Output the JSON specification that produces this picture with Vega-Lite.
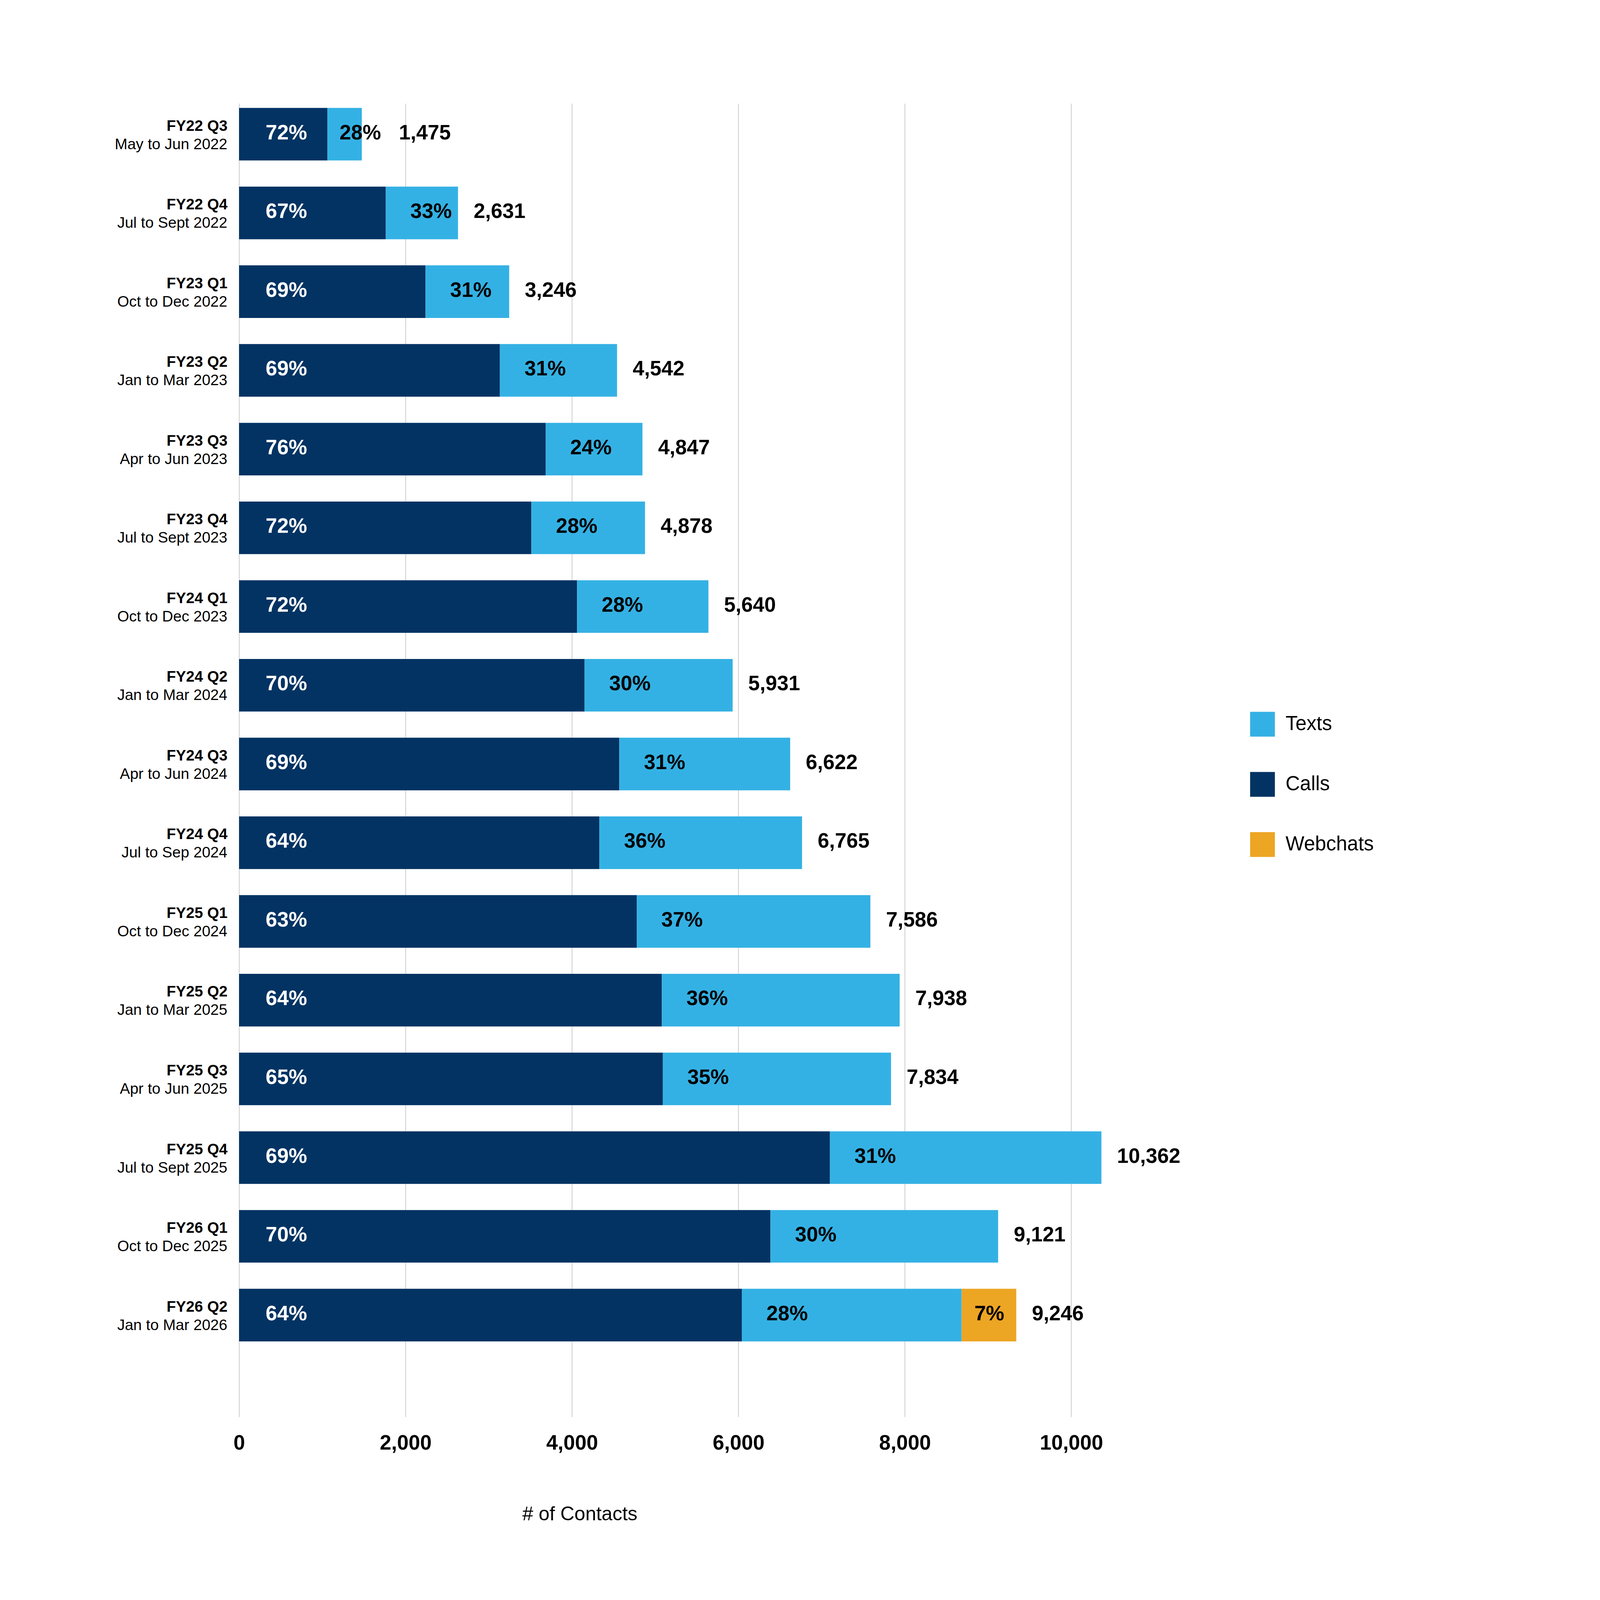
{
  "$schema": "https://vega.github.io/schema/vega-lite/v6.json",
  "description": "Contacts per quarter by channel (Calls, Texts, Webchats), stacked horizontal bars.",
  "autosize": "none",
  "padding": {"left": 612, "top": 265, "right": 1249, "bottom": 394},
  "width": 2237,
  "height": 3362,
  "background": "white",
  "config": {
    "font": "Liberation Sans",
    "view": {"stroke": null}
  },
  "data": {
    "values": [
      {"quarter": "FY22 Q3", "period": "May to Jun 2022", "channel": "Calls", "count": 1062, "pct": 0.72, "total": 1475},
      {"quarter": "FY22 Q3", "period": "May to Jun 2022", "channel": "Texts", "count": 413, "pct": 0.28, "total": 1475},
      {"quarter": "FY22 Q4", "period": "Jul to Sept 2022", "channel": "Calls", "count": 1763, "pct": 0.67, "total": 2631},
      {"quarter": "FY22 Q4", "period": "Jul to Sept 2022", "channel": "Texts", "count": 868, "pct": 0.33, "total": 2631},
      {"quarter": "FY23 Q1", "period": "Oct to Dec 2022", "channel": "Calls", "count": 2240, "pct": 0.69, "total": 3246},
      {"quarter": "FY23 Q1", "period": "Oct to Dec 2022", "channel": "Texts", "count": 1006, "pct": 0.31, "total": 3246},
      {"quarter": "FY23 Q2", "period": "Jan to Mar 2023", "channel": "Calls", "count": 3134, "pct": 0.69, "total": 4542},
      {"quarter": "FY23 Q2", "period": "Jan to Mar 2023", "channel": "Texts", "count": 1408, "pct": 0.31, "total": 4542},
      {"quarter": "FY23 Q3", "period": "Apr to Jun 2023", "channel": "Calls", "count": 3684, "pct": 0.76, "total": 4847},
      {"quarter": "FY23 Q3", "period": "Apr to Jun 2023", "channel": "Texts", "count": 1163, "pct": 0.24, "total": 4847},
      {"quarter": "FY23 Q4", "period": "Jul to Sept 2023", "channel": "Calls", "count": 3512, "pct": 0.72, "total": 4878},
      {"quarter": "FY23 Q4", "period": "Jul to Sept 2023", "channel": "Texts", "count": 1366, "pct": 0.28, "total": 4878},
      {"quarter": "FY24 Q1", "period": "Oct to Dec 2023", "channel": "Calls", "count": 4061, "pct": 0.72, "total": 5640},
      {"quarter": "FY24 Q1", "period": "Oct to Dec 2023", "channel": "Texts", "count": 1579, "pct": 0.28, "total": 5640},
      {"quarter": "FY24 Q2", "period": "Jan to Mar 2024", "channel": "Calls", "count": 4152, "pct": 0.70, "total": 5931},
      {"quarter": "FY24 Q2", "period": "Jan to Mar 2024", "channel": "Texts", "count": 1779, "pct": 0.30, "total": 5931},
      {"quarter": "FY24 Q3", "period": "Apr to Jun 2024", "channel": "Calls", "count": 4569, "pct": 0.69, "total": 6622},
      {"quarter": "FY24 Q3", "period": "Apr to Jun 2024", "channel": "Texts", "count": 2053, "pct": 0.31, "total": 6622},
      {"quarter": "FY24 Q4", "period": "Jul to Sep 2024", "channel": "Calls", "count": 4330, "pct": 0.64, "total": 6765},
      {"quarter": "FY24 Q4", "period": "Jul to Sep 2024", "channel": "Texts", "count": 2435, "pct": 0.36, "total": 6765},
      {"quarter": "FY25 Q1", "period": "Oct to Dec 2024", "channel": "Calls", "count": 4779, "pct": 0.63, "total": 7586},
      {"quarter": "FY25 Q1", "period": "Oct to Dec 2024", "channel": "Texts", "count": 2807, "pct": 0.37, "total": 7586},
      {"quarter": "FY25 Q2", "period": "Jan to Mar 2025", "channel": "Calls", "count": 5080, "pct": 0.64, "total": 7938},
      {"quarter": "FY25 Q2", "period": "Jan to Mar 2025", "channel": "Texts", "count": 2858, "pct": 0.36, "total": 7938},
      {"quarter": "FY25 Q3", "period": "Apr to Jun 2025", "channel": "Calls", "count": 5092, "pct": 0.65, "total": 7834},
      {"quarter": "FY25 Q3", "period": "Apr to Jun 2025", "channel": "Texts", "count": 2742, "pct": 0.35, "total": 7834},
      {"quarter": "FY25 Q4", "period": "Jul to Sept 2025", "channel": "Calls", "count": 7100, "pct": 0.69, "total": 10362},
      {"quarter": "FY25 Q4", "period": "Jul to Sept 2025", "channel": "Texts", "count": 3262, "pct": 0.31, "total": 10362},
      {"quarter": "FY26 Q1", "period": "Oct to Dec 2025", "channel": "Calls", "count": 6385, "pct": 0.70, "total": 9121},
      {"quarter": "FY26 Q1", "period": "Oct to Dec 2025", "channel": "Texts", "count": 2736, "pct": 0.30, "total": 9121},
      {"quarter": "FY26 Q2", "period": "Jan to Mar 2026", "channel": "Calls", "count": 6041, "pct": 0.64, "total": 9246},
      {"quarter": "FY26 Q2", "period": "Jan to Mar 2026", "channel": "Texts", "count": 2641, "pct": 0.28, "total": 9246},
      {"quarter": "FY26 Q2", "period": "Jan to Mar 2026", "channel": "Webchats", "count": 657, "pct": 0.07, "total": 9246}
    ]
  },
  "transform": [
    {"stack": "count", "groupby": ["quarter"], "sort": [{"field": "channel", "order": "ascending"}], "as": ["x0", "x1"]}
  ],
  "encoding": {
    "y": {
      "field": "quarter",
      "type": "nominal",
      "sort": null,
      "scale": {"paddingInner": 0.332, "paddingOuter": 0.507, "align": 0.055},
      "axis": {
        "title": null,
        "domain": false,
        "ticks": false,
        "tickSize": 0,
        "labelPadding": 30,
        "labelLimit": 2000,
        "labelFontSize": 39,
        "labelFontWeight": "bold",
        "labelColor": "#000000",
        "labelBaseline": "alphabetic",
        "labelOffset": -9
      }
    }
  },
  "layer": [
    {
      "mark": {"type": "bar", "strokeWidth": 0},
      "encoding": {
        "x": {
          "field": "x0",
          "type": "quantitative",
          "scale": {"domain": [0, 10500], "nice": false},
          "axis": {
            "values": [0, 2000, 4000, 6000, 8000, 10000],
            "format": ",.0f",
            "domain": false,
            "ticks": false,
            "tickSize": 0,
            "grid": true,
            "gridColor": "#CCCCCC",
            "gridWidth": 2,
            "labelFlush": false,
            "labelPadding": 41,
            "labelFontSize": 53,
            "labelFontWeight": "bold",
            "labelColor": "#000000",
            "title": "# of Contacts",
            "titleFontSize": 50,
            "titleFontWeight": "normal",
            "titleColor": "#000000",
            "titlePadding": 130,
            "titleX": 872,
            "titleAlign": "center"
          }
        },
        "x2": {"field": "x1"},
        "color": {
          "field": "channel",
          "type": "nominal",
          "scale": {"domain": ["Texts", "Calls", "Webchats"], "range": ["#34B1E4", "#023363", "#EDA524"]},
          "legend": {
            "title": null,
            "orient": "none",
            "legendX": 2588,
            "legendY": 1557,
            "padding": 0,
            "symbolType": "square",
            "symbolSize": 4020,
            "symbolStrokeWidth": 0,
            "symbolOpacity": 1,
            "labelFontSize": 51,
            "labelColor": "#000000",
            "labelOffset": 27,
            "labelLimit": 2000,
            "rowPadding": 90
          }
        }
      }
    },
    {
      "transform": [{"filter": "datum.channel === 'Calls'"}],
      "mark": {"type": "text", "align": "left", "baseline": "alphabetic", "dx": 68, "dy": 13, "fontSize": 53, "fontWeight": "bold", "color": "#FFFFFF"},
      "encoding": {
        "x": {"field": "x0", "type": "quantitative"},
        "text": {"field": "pct", "type": "quantitative", "format": ".0%"}
      }
    },
    {
      "transform": [{"filter": "datum.channel === 'Texts'"}],
      "mark": {"type": "text", "align": "center", "baseline": "alphabetic", "dx": {"expr": "datum.count < 600 ? 84 : 116"}, "dy": 13, "fontSize": 53, "fontWeight": "bold", "color": "#000000"},
      "encoding": {
        "x": {"field": "x0", "type": "quantitative"},
        "text": {"field": "pct", "type": "quantitative", "format": ".0%"}
      }
    },
    {
      "transform": [{"filter": "datum.channel === 'Webchats'"}],
      "mark": {"type": "text", "align": "center", "baseline": "alphabetic", "dx": 71, "dy": 13, "fontSize": 53, "fontWeight": "bold", "color": "#000000"},
      "encoding": {
        "x": {"field": "x0", "type": "quantitative"},
        "text": {"field": "pct", "type": "quantitative", "format": ".0%"}
      }
    },
    {
      "transform": [
        {"aggregate": [{"op": "max", "field": "x1", "as": "end"}, {"op": "max", "field": "total", "as": "total"}], "groupby": ["quarter"]}
      ],
      "mark": {"type": "text", "align": "left", "baseline": "alphabetic", "dx": {"expr": "datum.end < 2000 ? 95 : 40"}, "dy": 13, "fontSize": 53, "fontWeight": "bold", "color": "#000000"},
      "encoding": {
        "x": {"field": "end", "type": "quantitative"},
        "text": {"field": "total", "type": "quantitative", "format": ","}
      }
    },
    {
      "transform": [{"filter": "datum.channel === 'Calls'"}],
      "mark": {"type": "text", "align": "right", "baseline": "alphabetic", "dx": -30, "dy": 38, "fontSize": 39, "color": "#000000"},
      "encoding": {
        "x": {"datum": 0, "type": "quantitative"},
        "text": {"field": "period", "type": "nominal"}
      }
    }
  ]
}
